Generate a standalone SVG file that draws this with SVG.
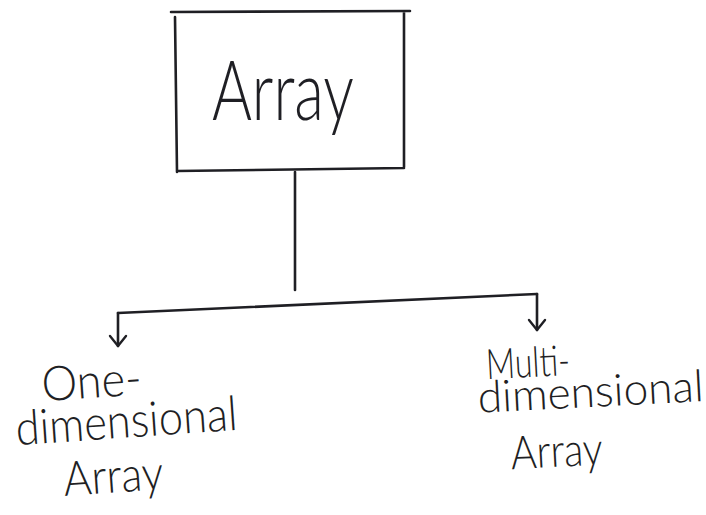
<svg xmlns="http://www.w3.org/2000/svg" width="706" height="515" viewBox="0 0 706 515">
  <style>
    .ink { fill: none; stroke: #1f1f24; stroke-width: 2.6; stroke-linecap: round; stroke-linejoin: round; }
    .hand { font-family: Lato, "Open Sans", "Liberation Sans", sans-serif; font-weight: 300; fill: #1f1f24; }
  </style>
  <defs>
    <!-- open V arrowhead, tip at the line end -->
    <marker id="vee" viewBox="0 0 20 20" refX="18" refY="10" markerWidth="20" markerHeight="20" markerUnits="userSpaceOnUse" orient="auto">
      <path d="M8 2 L18 10 L8 18" fill="none" stroke="#1f1f24" stroke-width="2.4" stroke-linecap="round" stroke-linejoin="round"/>
    </marker>
  </defs>
  <rect width="706" height="515" fill="#ffffff"/>

  <!-- root node -->
  <g id="node-array">
    <path class="ink" d="M171 12 L410 11 M175 17 L177 172 M404 12 L404 167 M177 171 L404 168"/>
    <text class="hand" x="212" y="120" font-size="82" textLength="142" lengthAdjust="spacingAndGlyphs">Array</text>
  </g>

  <!-- connectors -->
  <g id="connectors">
    <path class="ink" d="M295 172 L295 290"/>
    <path class="ink" d="M118 313 L537 294"/>
    <path class="ink" d="M118 313 L118 346" marker-end="url(#vee)"/>
    <path class="ink" d="M537 294 L537 330" marker-end="url(#vee)"/>
  </g>

  <!-- child nodes -->
  <g id="node-one-dimensional" transform="rotate(-4 120 430)">
    <text class="hand" x="45" y="396" font-size="48" textLength="100" lengthAdjust="spacingAndGlyphs">One-</text>
    <text class="hand" x="16" y="438" font-size="48" textLength="222" lengthAdjust="spacingAndGlyphs">dimensional</text>
    <text class="hand" x="60" y="492" font-size="48" textLength="100" lengthAdjust="spacingAndGlyphs">Array</text>
  </g>

  <g id="node-multi-dimensional" transform="rotate(-3 590 400)">
    <text class="hand" x="488" y="374" font-size="42" textLength="84" lengthAdjust="spacingAndGlyphs">Multi-</text>
    <text class="hand" x="478" y="407" font-size="44" textLength="226" lengthAdjust="spacingAndGlyphs">dimensional</text>
    <text class="hand" x="508" y="465" font-size="46" textLength="92" lengthAdjust="spacingAndGlyphs">Array</text>
  </g>
</svg>
